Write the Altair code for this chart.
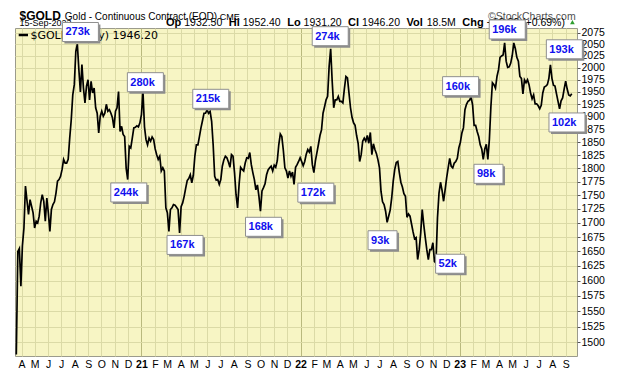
import altair as alt
import pandas as pd

# ---------------- data ----------------
# closes sampled twice a week (every 3.5 days) from the first point shown
series_start = "2020-03-20"
close = [
    1481, 1650, 1655, 1591, 1660, 1691, 1767, 1740, 1715, 1742,
    1730, 1718, 1691, 1703, 1700, 1712, 1736, 1751, 1739, 1703,
    1745, 1718, 1685, 1724, 1733, 1738, 1754, 1776, 1779, 1785,
    1798, 1817, 1810, 1810, 1817, 1858, 1894, 1944, 1965, 2035,
    2050, 1996, 1950, 2007, 1958, 1928, 1962, 1975, 1934, 1972,
    1948, 1958, 1918, 1907, 1868, 1901, 1911, 1901, 1907, 1925,
    1911, 1914, 1907, 1898, 1878, 1911, 1918, 1951, 1871, 1881,
    1865, 1861, 1800, 1779, 1842, 1839, 1858, 1878, 1879, 1882,
    1880, 1888, 1904, 1951, 1880, 1855, 1845, 1858, 1852, 1860,
    1855, 1837, 1826, 1817, 1823, 1795, 1801, 1795, 1727, 1718,
    1685, 1724, 1727, 1733, 1732, 1728, 1724, 1682, 1729, 1736,
    1748, 1763, 1777, 1781, 1788, 1773, 1787, 1823, 1845, 1845,
    1861, 1878, 1892, 1907, 1907, 1914, 1907, 1911, 1891, 1845,
    1785, 1778, 1779, 1770, 1779, 1804, 1816, 1823, 1820, 1812,
    1802, 1826, 1823, 1792, 1751, 1727, 1770, 1802, 1798, 1795,
    1810, 1820, 1819, 1830, 1807, 1792, 1779, 1760, 1769, 1748,
    1721, 1758, 1764, 1771, 1788, 1797, 1801, 1804, 1795, 1806,
    1802, 1814, 1845, 1866, 1861, 1834, 1801, 1795, 1782, 1795,
    1785, 1793, 1770, 1802, 1807, 1813, 1820, 1813, 1805, 1813,
    1827, 1836, 1831, 1842, 1807, 1792, 1814, 1830, 1846, 1863,
    1874, 1907, 1920, 1934, 1941, 2003, 2040, 1972, 1918, 1934,
    1934, 1941, 1931, 1931, 1928, 1957, 1982, 1979, 1948, 1918,
    1899, 1888, 1883, 1863, 1848, 1813, 1826, 1852, 1858, 1852,
    1863, 1848, 1869, 1826, 1847, 1836, 1828, 1816, 1801, 1757,
    1738, 1733, 1721, 1701, 1712, 1723, 1745, 1776, 1798, 1811,
    1813, 1792, 1774, 1765, 1753, 1748, 1710, 1716, 1712, 1698,
    1684, 1672, 1674, 1636, 1653, 1682, 1724, 1697, 1674, 1653,
    1636, 1653, 1653, 1665, 1633, 1630, 1709, 1754, 1774, 1759,
    1739, 1760, 1782, 1801, 1819, 1804, 1801, 1810, 1813, 1819,
    1839, 1850, 1868, 1878, 1914, 1925, 1931, 1933, 1940, 1924,
    1883, 1883, 1871, 1861, 1845, 1837, 1817, 1837, 1846, 1817,
    1855, 1920, 1969, 1965, 1958, 1982, 1996, 2022, 2025, 2027,
    2053, 2014, 2001, 2002, 2010, 2026, 2053, 2041, 2022, 2014,
    1982, 1978, 1946, 1975, 1969, 1975, 1965, 1948, 1936, 1944,
    1926, 1926, 1922, 1916, 1923, 1948, 1960, 1962, 1965, 1978,
    2006, 1978, 1964, 1962, 1946, 1931, 1916, 1932, 1938, 1956,
    1972, 1956, 1944, 1942, 1946.2,
]

ann_text = ["273k", "280k", "244k", "167k", "215k", "168k", "172k", "274k",
            "93k", "52k", "160k", "98k", "196k", "193k", "102k"]
ann_date = ["2020-08-14", "2021-01-10", "2020-12-03", "2021-04-11", "2021-06-09",
            "2021-10-08", "2022-02-05", "2022-03-10", "2022-07-08", "2022-12-10",
            "2023-01-03", "2023-03-08", "2023-04-20", "2023-08-29", "2023-09-04"]
ann_price = [2076.5, 1970.1, 1755.1, 1661.2, 1936.1, 1693.1, 1754.7, 2067.4,
             1669.4, 1628.8, 1961.9, 1789.8, 2082.0, 2039.2, 1888.7]

price_ticks = [1500, 1525, 1550, 1575, 1600, 1625, 1650, 1675, 1700, 1725, 1750,
               1775, 1800, 1825, 1850, 1875, 1900, 1925, 1950, 1975, 2000, 2025,
               2050, 2075]
first_month, last_month = "2020-04-01", "2023-09-01"

symbol = "$GOLD"
name = "Gold - Continuous Contract (EOD)"
exchange = "CME"
quote_date = "15-Sep-2023"
quote = [("Op", "1932.50"), ("Hi", "1952.40"), ("Lo", "1931.20"),
         ("Cl", "1946.20"), ("Vol", "18.5M"), ("Chg", "+13.30 (+0.69%)")]
legend_text = "$GOLD (Daily) 1946.20"
credit = "\u00a9StockCharts.com"

# ---------------- frames ----------------
df = pd.DataFrame({
    "date": pd.date_range(series_start, periods=len(close), freq="84h"),
    "price": close,
})
ann = pd.DataFrame({"label": ann_text, "date": pd.to_datetime(ann_date), "price": ann_price})
one = pd.DataFrame({"k": [0]})

FONT = "Liberation Sans"
BLUE = "#1010ee"

x_scale = alt.Scale(domain=[alt.DateTime(year=2020, month=3, date=17),
                            alt.DateTime(year=2023, month=9, date=27)], nice=False)
y_scale = alt.Scale(type="log", domain=[1478.7, 2085.2], nice=False)

month_ticks = [alt.DateTime(year=d.year, month=d.month, date=1)
               for d in pd.date_range(first_month, last_month, freq="MS")]

x_axis = alt.Axis(
    values=month_ticks, title=None, domain=False, ticks=False, tickSize=0,
    labelExpr="month(datum.value) == 0 ? timeFormat(datum.value, '%y') : "
              "substring(timeFormat(datum.value, '%b'), 0, 1)",
    labelFontWeight={"condition": {"test": "month(datum.value) == 0", "value": "bold"},
                     "value": "normal"},
    labelFont=FONT, labelFontSize=10.5, labelColor="#000000",
    labelBaseline="alphabetic", labelPadding=11, labelOverlap=False, labelFlush=False,
    gridColor={"condition": {"test": "month(datum.value) == 0", "value": "#b9b97e"},
               "value": "#dbdaa6"},
    gridWidth=1,
)
y_axis = alt.Axis(
    orient="right", values=price_ticks, format="d", title=None, domain=False,
    tickSize=3, tickColor="#555555", labelPadding=1, labelFont=FONT,
    labelFontSize=10.5, labelColor="#000000", labelOverlap=False, labelFlush=False,
    gridColor="#dbdaa6", gridWidth=1,
)
X = alt.X("date:T", scale=x_scale, axis=x_axis, title=None)
Y = alt.Y("price:Q", scale=y_scale, axis=y_axis, title=None)

line = alt.Chart(df).mark_line(color="black", strokeWidth=1.7,
                               strokeJoin="miter").encode(x=X, y=Y)

# ---------------- annotation boxes ----------------
ann_layers = []
for nchar, w in ((4, 36), (3, 29)):
    base = alt.Chart(ann).transform_filter(f"length(datum.label) == {nchar}")
    ann_layers.append(base.mark_rect(width=w, height=19, xOffset=2, yOffset=2,
                                     color="#8c8c8c").encode(x=X, y=Y))
    ann_layers.append(base.mark_rect(width=w, height=19, fill="white",
                                     stroke="#8f8f8f", strokeWidth=1).encode(x=X, y=Y))
    ann_layers.append(base.mark_text(align="left", baseline="middle", dx=-w / 2 + 3,
                                     dy=0.5, font=FONT, fontSize=11, fontWeight="bold",
                                     color=BLUE).encode(x=X, y=Y, text="label:N"))

# ---------------- header texts ----------------
def label(txt, x, y, size, bold=False, color="#000000", font=FONT):
    return alt.Chart(one).mark_text(
        align="left", baseline="alphabetic", font=font, fontSize=size,
        fontWeight="bold" if bold else "normal", color=color,
    ).encode(x=alt.value(x), y=alt.value(y), text=alt.value(txt))

W_N = {c: 0.556 for c in "0123456789"}
W_N.update({".": 0.278, " ": 0.278, "+": 0.584, "(": 0.333, ")": 0.333,
            "%": 0.889, "M": 0.833, "-": 0.333})
W_B = {"O": 0.778, "p": 0.611, "H": 0.722, "i": 0.278, "L": 0.611, "o": 0.611,
       "C": 0.722, "l": 0.278, "V": 0.667, "h": 0.611, "g": 0.611, "$": 0.556,
       "G": 0.778, "D": 0.722}

def tw(s, size, table):
    return size * sum(table.get(c, 0.556) for c in s)

sym_size = 12
row1_y, row2_y = -8.4, -1.9
name_x = 4.5 + tw(symbol, sym_size, W_B) + 4
header = [
    label(symbol, 4.5, row1_y, sym_size, bold=True),
    label(name, name_x, row1_y, 10),
    label(exchange, name_x + 155, row1_y, 9),
    label(credit, 473, row1_y, 10.5, color="#505050"),
    label(quote_date, 4.5, row2_y, 9),
]
xpos = 151.0
for lab, val in quote:
    header.append(label(lab, xpos, row2_y, 11, bold=True))
    xpos += tw(lab, 11, W_B) + 3
    header.append(label(val, xpos, row2_y, 10.5))
    xpos += tw(val, 10.5, W_N) + 6.5
header.append(alt.Chart(one).mark_point(shape="triangle-up", filled=True, size=22,
                                        color="#2f9e2f", opacity=1)
              .encode(x=alt.value(xpos + 1), y=alt.value(row2_y - 4)))

legend = [
    alt.Chart(one).mark_rule(color="black", strokeWidth=2.5)
    .encode(x=alt.value(3.7), x2=alt.value(13), y=alt.value(7)),
    label(legend_text, 15.4, 11.3, 11, font="DejaVu Sans"),
]

chart = alt.layer(line, *legend, *header, *ann_layers).properties(
    width=562, height=328,
    padding={"left": 7, "top": 20, "right": 35, "bottom": 12},
    autosize=alt.AutoSizeParams(type="none"),
    background="white",
).configure_view(fill="#f7f5c4", stroke="#9b9b8c", strokeWidth=1)

chart.save("out.html", embed_options={"renderer": "svg", "actions": False})
